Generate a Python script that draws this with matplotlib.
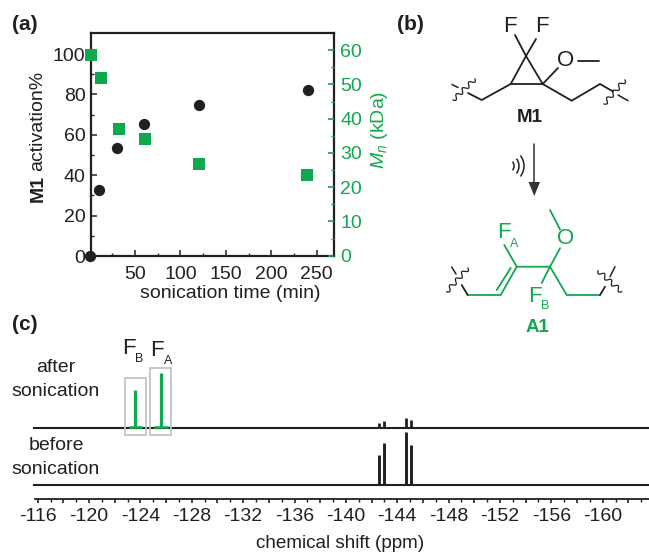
import numpy as np
import matplotlib
matplotlib.use('Agg')
import matplotlib.pyplot as plt
from matplotlib.patches import Rectangle, Arc, Polygon

plt.rcParams['font.family'] = ['Liberation Sans', 'DejaVu Sans']
plt.rcParams['mathtext.fontset'] = 'custom'
plt.rcParams['mathtext.it'] = 'Liberation Sans:italic'
plt.rcParams['mathtext.rm'] = 'Liberation Sans'

BLACK = '#231F20'
GREEN = '#0FA84E'
GREY = '#C4C4C4'
W, H = 649, 552

# ---- panel (a) data
time_black = [0, 10, 30, 60, 120, 240]
activation = [0, 32.5, 53.5, 65.5, 75, 82]
time_green = [2, 12, 32, 61, 120, 239.5]
mn_kda = [58.5, 52, 37.1, 34.2, 26.9, 23.6]
x_ticks_a = [50, 100, 150, 200, 250]
y_ticks_a = [0, 20, 40, 60, 80, 100]
y2_ticks_a = [0, 10, 20, 30, 40, 50, 60]

# ---- panel (c) data
peaks_after_black_ppm = [-142.6, -142.95, -144.7, -145.05]
peaks_after_black_h = [5, 7, 10, 7.5]
peaks_after_green_ppm = [-123.6, -125.6]
peaks_after_green_h = [38, 55]
peaks_before_ppm = [-142.6, -142.95, -144.7, -145.05]
peaks_before_h = [30, 42, 53, 40]
ppm_ticks = [-116, -120, -124, -128, -132, -136, -140, -144, -148, -152, -156, -160]


def rect(l, t, r, b):
    return [l / W, 1 - b / H, (r - l) / W, (b - t) / H]


fig = plt.figure(figsize=(W / 100, H / 100), dpi=100, facecolor='white')

# ---------------- panel (a)
ax = fig.add_axes(rect(91, 33, 333.5, 256))
ax.set_xlim(1.5, 268.5)
ax.set_ylim(0, 110.4)
ax.scatter(time_black, activation, s=66, marker='o', color=BLACK, zorder=5, clip_on=False, linewidths=0)
ax.set_xticks(x_ticks_a)
ax.set_xticks([25, 75, 125, 175, 225], minor=True)
ax.set_yticks(y_ticks_a)
ax.set_yticks([10, 30, 50, 70, 90], minor=True)
ax.tick_params(axis='both', which='major', direction='in', length=4, width=1.1, labelsize=14, colors=BLACK, pad=4)
ax.tick_params(axis='x', which='major', pad=7)
ax.tick_params(axis='both', which='minor', direction='in', length=2.2, width=1.0, colors=BLACK)
for s in ax.spines.values():
    s.set_linewidth(1.6)
    s.set_color(BLACK)

ax2 = ax.twinx()
ax2.set_ylim(-0.1, 65)
ax2.scatter(time_green, mn_kda, s=72, marker='s', color=GREEN, zorder=6, clip_on=False, linewidths=0)
ax2.set_yticks(y2_ticks_a)
ax2.set_yticks([5, 15, 25, 35, 45, 55], minor=True)
ax2.tick_params(axis='y', which='major', direction='in', length=4, width=1.2, labelsize=14, colors=GREEN, pad=5)
ax2.tick_params(axis='y', which='minor', direction='in', length=2.2, width=1.0, colors=GREEN)
for s in ax2.spines.values():
    s.set_visible(False)

# ---------------- panel (c)
axc = fig.add_axes(rect(35, 420, 649, 499))
axc.set_xlim(-116 + (37.7 - 35) / 12.84, -116 - (649 - 37.7) / 12.84)
axc.set_ylim(-14, 65)  # intensity scale, before-trace baseline at 0
OFFSET = 57.5
axc.patch.set_alpha(0)


def trace(peaks, heights, base, color, lw=1.9):
    for p, h in zip(peaks, heights):
        axc.plot([p, p], [base, base + h], color=color, lw=lw, solid_capstyle='butt', clip_on=False, zorder=4)


left_end, right_end = axc.get_xlim()
for base in (0, OFFSET):
    axc.plot([left_end + 0.1, right_end], [base, base], color=BLACK, lw=1.5, zorder=3, clip_on=False)
trace(peaks_before_ppm, peaks_before_h, 0, BLACK, lw=2.1)
trace(peaks_after_black_ppm, peaks_after_black_h, OFFSET, BLACK, lw=2.0)
trace(peaks_after_green_ppm, peaks_after_green_h, OFFSET, GREEN, lw=2.3)
for p in peaks_after_green_ppm:
    axc.plot([p - 0.45, p + 0.45], [OFFSET + 0.4, OFFSET + 0.4], color=GREEN, lw=1.8, zorder=4)

major_positions = np.arange(-116, -164, -2)
minor_positions = np.arange(-117, -164, -2)
axc.set_xticks(major_positions)
axc.set_xticks(minor_positions, minor=True)
axc.set_xticklabels([str(t) if t in ppm_ticks else '' for t in major_positions])
axc.set_yticks([])
axc.tick_params(axis='x', which='major', direction='out', length=3.2, width=1.2, labelsize=14, colors=BLACK, pad=3.5)
axc.tick_params(axis='x', which='minor', direction='out', length=1.8, width=1.0, colors=BLACK)
for k in ('top', 'left', 'right'):
    axc.spines[k].set_visible(False)
axc.spines['bottom'].set_linewidth(1.3)
axc.spines['bottom'].set_color(BLACK)

# ---------------- overlay in pixel coordinates (annotations and chemical drawings)
ov = fig.add_axes([0, 0, 1, 1], zorder=10)
ov.set_xlim(0, W)
ov.set_ylim(H, 0)
ov.axis('off')


def txt(x, y, s, size=14, color=BLACK, **kw):
    kw.setdefault('ha', 'center')
    kw.setdefault('va', 'center')
    ov.text(x, y, s, fontsize=size, color=color, **kw)


def bond(pts, color=BLACK, lw=1.3):
    xs, ys = zip(*pts)
    ov.plot(xs, ys, color=color, lw=lw, solid_capstyle='round', solid_joinstyle='miter')


def squiggle(a, b, n=3.5, amp=2.2):
    a, b = np.array(a, float), np.array(b, float)
    t = np.linspace(0, 1, 90)
    d = b - a
    nrm = np.array([-d[1], d[0]]) / np.hypot(*d)
    pts = a + np.outer(t, d) + np.outer(amp * np.sin(2 * np.pi * n * t), nrm)
    ov.plot(pts[:, 0], pts[:, 1], color=BLACK, lw=0.9)


txt(25, 24, '(a)', 15, fontweight='bold')
txt(410, 25, '(b)', 15, fontweight='bold')
txt(25, 324, '(c)', 15, fontweight='bold')

# axis titles of panel (a)
txt(38, 189, 'M1', 14, fontweight='bold', rotation=90)
txt(38, 121, 'activation%', 14, rotation=90)
txt(380, 130, r'$M_n$ (kDa)', 14, color=GREEN, rotation=90)
txt(230, 293, 'sonication time (min)', 14)

# M1
txt(510, 27, 'F', 16)
txt(542, 27, 'F', 16)
txt(566, 61, 'O', 16)
bond([(515, 35), (526, 56), (536, 39)])
bond([(526, 56), (510.7, 84), (542.7, 84), (526, 56)])
bond([(542.7, 84), (558, 68)])
bond([(577.7, 60.7), (599, 60.7)])
bond([(468, 93), (481.7, 100), (510.7, 84)])
bond([(542.7, 84), (571.7, 100.7), (600, 84), (613, 91.5)])
bond([(452, 84.5), (458, 87.5)], lw=1.1)
bond([(618, 95), (628, 100.7)], lw=1.1)
squiggle((453, 100), (475, 79))
squiggle((604, 104), (625, 80))
txt(530, 117, 'M1', 13.5, fontweight='bold')

# arrow and ultrasound
bond([(534.3, 144), (534.3, 186)], color='#333333', lw=1.1)
ov.add_patch(Polygon([(528.5, 182), (540, 182), (534.3, 196)], closed=True, color='#333333', lw=0))
for r in (7, 12, 17):
    ov.add_patch(Arc((507, 166), 2 * r, 2 * r, theta1=-38, theta2=38, color=BLACK, lw=1.1))

# A1
txt(504, 233, 'F', 16, color=GREEN)
txt(514, 244, 'A', 9, color=GREEN)
txt(535, 296, 'F', 16, color=GREEN)
txt(545, 306, 'B', 9, color=GREEN)
txt(566, 239, 'O', 16, color=GREEN)
bond([(504.3, 245), (516.7, 266.7), (500.7, 295), (467.7, 295)], color=GREEN)
bond([(510.7, 268), (496.7, 290)], color=GREEN)
bond([(516.7, 266.7), (550, 266.7), (566.7, 295), (600, 295)], color=GREEN)
bond([(550, 266.7), (541.7, 283)], color=GREEN)
bond([(550, 266.7), (560, 248.3)], color=GREEN)
bond([(560, 229.3), (550, 210)], color=GREEN)
bond([(467.7, 295), (461.7, 285)])
bond([(600, 295), (605, 286.7)])
bond([(451.7, 267), (456, 274)], lw=1.1)
bond([(615, 266.7), (610, 276.7)], lw=1.1)
squiggle((446.7, 291.7), (468, 268))
squiggle((598, 270.7), (621.7, 291.7))
txt(537.7, 327.5, 'A1', 13.5, color=GREEN, fontweight='bold')

# panel (c) annotations
for (l, t, r, b) in [(125, 378, 145.7, 435), (150, 368.3, 170.7, 435)]:
    ov.add_patch(Rectangle((l, t), r - l, b - t, fill=False, ec=GREY, lw=1.3, zorder=2))
txt(129, 349, 'F', 16)
txt(139, 359, 'B', 9)
txt(157, 350, 'F', 16)
txt(168, 361, 'A', 9)
txt(56, 367, 'after', 14)
txt(56, 391, 'sonication', 14)
txt(56, 446, 'before', 14)
txt(56, 469, 'sonication', 14)
txt(340, 543, 'chemical shift (ppm)', 13.6)

fig.savefig('out.png', dpi=100, facecolor='white')
